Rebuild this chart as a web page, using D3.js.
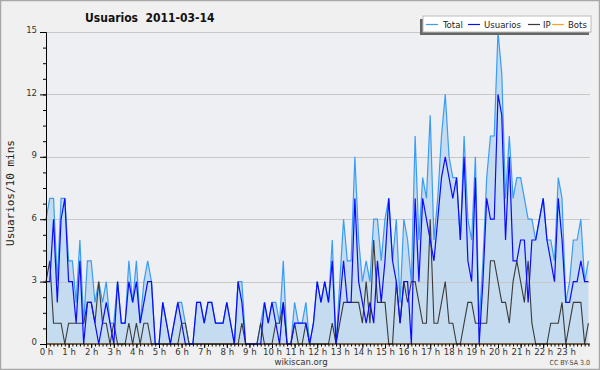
<!DOCTYPE html>
<html><head><meta charset="utf-8">
<script src="https://cdn.jsdelivr.net/npm/d3@7"></script>
<style>body{margin:0;background:#fff}svg{display:block}</style>
</head><body><svg id="c" width="600" height="370"></svg>
<script>
// 10-minute buckets, 0:00 .. 24:00
const total = [6,7,7,3,7,7,4,4,2,5, 1,4,4,2,3,2,3,1,1,3, 1,1,4,2,4,1,3,4,3,0, 0,2,1,0,1,2,2,1,0,0, 2,2,1,2,2,1,1,1,2,1, 0,3,3,0,0,0,0,1,2,1, 2,2,1,4,0,0,2,1,1,2, 0,1,3,2,3,2,5,0,3,6, 4,4,9,5,3,4,3,6,6,4, 6,7,4,6,2,6,5,3,10,5, 8,7,11,5,7,10,12,9,8,8, 5,10,6,5,9,1,4,8,10,10, 15,13,7,10,7,8,8,7,6,6, 5,6,7,5,5,4,8,7,2,3, 5,5,6,3,4];
const usuarios = [3,3,6,2,6,7,3,3,1,4, 0,2,2,1,0,1,2,1,0,3, 1,1,3,2,3,1,2,3,3,0, 0,2,1,0,1,2,1,0,0,0, 2,2,1,2,2,1,1,1,2,1, 0,3,2,0,0,0,0,0,2,1, 2,1,0,2,0,0,1,1,1,1, 0,1,3,2,3,2,4,0,2,4, 2,2,7,3,2,1,2,1,4,2, 4,7,4,3,1,3,3,0,7,3, 7,6,5,4,6,8,9,8,7,8, 5,9,4,3,8,0,3,7,6,6, 12,11,5,9,4,4,5,5,2,5, 5,6,7,5,4,3,7,5,2,2, 3,3,4,3,3];
const ip = [3,4,1,1,1,0,1,1,1,1, 1,2,2,1,3,1,1,0,1,0, 0,0,1,0,1,0,1,1,0,0, 0,0,0,0,0,0,1,1,0,0, 0,0,0,0,0,0,0,0,0,0, 0,0,1,0,0,0,0,1,0,0, 0,1,1,2,0,0,1,0,0,1, 0,0,0,0,0,0,1,0,1,2, 2,2,2,2,1,3,1,5,2,2, 2,0,0,3,1,3,2,3,3,2, 1,1,6,1,1,2,3,1,1,0, 0,1,2,2,1,1,1,1,4,4, 3,2,2,1,3,4,3,2,4,1, 0,0,0,0,1,1,1,2,0,1, 2,2,2,0,1];
const bots = [0,0,0,0,0,0,0,0,0,0, 0,0,0,0,0,0,0,0,0,0, 0,0,0,0,0,0,0,0,0,0, 0,0,0,0,0,0,0,0,0,0, 0,0,0,0,0,0,0,0,0,0, 0,0,0,0,0,0,0,0,0,0, 0,0,0,0,0,0,0,0,0,0, 0,0,0,0,0,0,0,0,0,0, 0,0,0,0,0,0,0,0,0,0, 0,0,0,0,0,0,0,0,0,0, 0,0,0,0,0,0,0,0,0,0, 0,0,0,0,0,0,0,0,0,0, 0,0,0,0,0,0,0,0,0,0, 0,0,0,0,0,0,0,0,0,0, 0,0,0,0,0];
const hourLabels = ["0 h","1 h","2 h","3 h","4 h","5 h","6 h","7 h","8 h","9 h","10 h","11 h","12 h","13 h","14 h","15 h","16 h","17 h","18 h","19 h","20 h","21 h","22 h","23 h"];
const yTickValues = [0,3,6,9,12,15];
const seriesNames = ["Total","Usuarios","IP","Bots"];
const titleText = "Usuarios  2011-03-14";
const yTitle = "Usuarios/10 mins";

const colors = {Total:"#3a9cf6", Usuarios:"#0a0aff", IP:"#3a3a3a", Bots:"#ffa020"};

const svg = d3.select("#c");
const W = 600, H = 370;
const pL = 46, pR = 588.4, pT = 32, pB = 344;

svg.append("rect").attr("x",0).attr("y",0).attr("width",W).attr("height",H).attr("fill","#f0f0f0");
svg.append("rect").attr("x",0.5).attr("y",0.5).attr("width",W-1).attr("height",H-1).attr("fill","none").attr("stroke","#a8a8a8").attr("stroke-width",1.5);

const x = d3.scaleLinear().domain([0, 1440]).range([pL, pR]);
const y = d3.scaleLinear().domain([0, 15]).range([pB, pT]);

svg.append("rect").attr("x",pL).attr("y",pT).attr("width",590-pL).attr("height",pB-pT).attr("fill","#edeff2");

const idx = d3.range(total.length);
const area = d3.area().x(i=>x(i*10)).y0(y(0)).y1(i=>y(total[i]));
svg.append("path").datum(idx).attr("d",area).attr("fill","#c5dcf0");

svg.append("g").selectAll("line").data(yTickValues.filter(v=>v>0)).join("line")
  .attr("x1",pL).attr("x2",590).attr("y1",v=>Math.round(y(v))+0.5).attr("y2",v=>Math.round(y(v))+0.5)
  .attr("stroke","#c8c8c8").attr("stroke-width",1);

function drawLine(arr, color, w){
  const line = d3.line().x(i=>x(i*10)).y(i=>y(arr[i]));
  svg.append("path").datum(idx).attr("d",line).attr("fill","none").attr("stroke",color).attr("stroke-width",w);
}
drawLine(total, colors.Total, 1.2);
drawLine(bots, colors.Bots, 1);
drawLine(ip, colors.IP, 1.1);
drawLine(usuarios, colors.Usuarios, 1.2);

const yAxis = d3.axisLeft(y).tickValues(yTickValues).tickSize(6).tickFormat(d3.format("d"));
const gy = svg.append("g").attr("transform",`translate(${pL},0)`).call(yAxis);
gy.select(".domain").attr("stroke","#000");
gy.selectAll(".tick line").attr("stroke","#000");
gy.selectAll(".tick text").attr("font-family","DejaVu Sans Condensed").attr("font-size",9.5).attr("fill","#333").attr("x",-9).attr("dy","0.1em");
const yMinor = d3.axisLeft(y).tickValues(d3.range(0, 15.01, 0.75)).tickSize(3).tickFormat("");
const gym = svg.append("g").attr("transform",`translate(${pL},0)`).call(yMinor);
gym.select(".domain").remove();
gym.selectAll(".tick line").attr("stroke","#000");

const xAxis = d3.axisBottom(x).tickValues(d3.range(0, 1440, 60)).tickSize(4).tickFormat((d,i)=>hourLabels[i]);
const gx = svg.append("g").attr("transform",`translate(0,${pB})`).call(xAxis);
gx.select(".domain").attr("stroke","#000").attr("d",`M${pL},0H590`);
gx.selectAll(".tick line").attr("stroke","#000");
gx.selectAll(".tick text").attr("font-family","DejaVu Sans Condensed").attr("font-size",9.5).attr("fill","#333").attr("y",10.5).attr("dy",0);
const xMinor = d3.axisBottom(x).tickValues(d3.range(0, 1441, 10)).tickSize(2.5).tickFormat("");
const gxm = svg.append("g").attr("transform",`translate(0,${pB})`).call(xMinor);
gxm.select(".domain").remove();
gxm.selectAll(".tick line").attr("stroke","#000");

svg.append("text").attr("x",85).attr("y",22).text(titleText)
  .attr("font-family","DejaVu Sans Condensed").attr("font-weight","bold").attr("font-size",12).attr("fill","#111")
  .style("white-space","pre");

svg.append("text").attr("transform","translate(14,193) rotate(-90)").attr("text-anchor","middle")
  .attr("font-family","DejaVu Sans Mono").attr("font-size",11).attr("fill","#222").text(yTitle);

svg.append("text").attr("x",301).attr("y",365).attr("text-anchor","middle")
  .attr("font-family","DejaVu Sans Condensed").attr("font-size",9.5).attr("fill","#333").text("wikiscan.org");
svg.append("text").attr("x",590).attr("y",365).attr("text-anchor","end")
  .attr("font-family","DejaVu Sans Condensed").attr("font-size",7).attr("fill","#444").text("CC BY-SA 3.0");

const lg = svg.append("g");
lg.append("rect").attr("x",420).attr("y",19).attr("width",169).attr("height",16).attr("fill","#666");
lg.append("rect").attr("x",423).attr("y",16).attr("width",168).attr("height",16).attr("fill","#fff").attr("stroke","#bbb").attr("stroke-width",1);
const legLineX = [426, 468, 528, 552];
const legTextX = [443, 484, 543, 568];
seriesNames.forEach((n,k)=>{
  lg.append("line").attr("x1",legLineX[k]).attr("x2",legLineX[k]+12).attr("y1",24.5).attr("y2",24.5).attr("stroke",colors[n]).attr("stroke-width",1.2);
  lg.append("text").attr("x",legTextX[k]).attr("y",28).text(n)
    .attr("font-family","DejaVu Sans Condensed").attr("font-size",9.5).attr("fill","#222");
});
</script>
</body></html>
